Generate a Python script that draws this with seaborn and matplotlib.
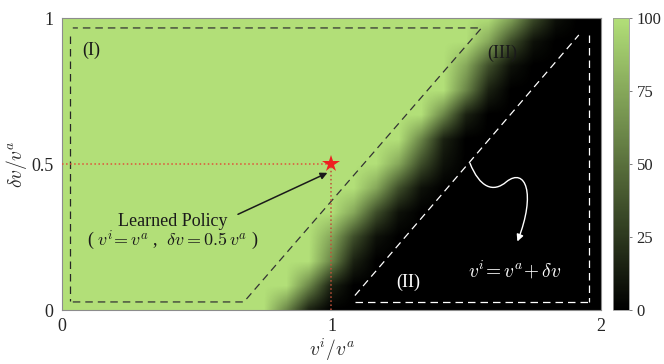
import numpy as np
import pandas as pd
import matplotlib
matplotlib.use("Agg")
import matplotlib.pyplot as plt
import seaborn as sns
from matplotlib.colors import LinearSegmentedColormap
from matplotlib.patches import FancyArrowPatch
from matplotlib.path import Path

# === Data ===
# grid nodes every 1/12 on both axes: v^i/v^a in [0, 2] (25 columns),
# dv/v^a in [0, 1] (13 rows, listed bottom to top); success rate in %
G, K = 100, 0
success = [
    [G] * 10 + [60, 15] + [K] * 13,
    [G] * 11 + [60, 15] + [K] * 12,
    [G] * 12 + [60, 15] + [K] * 11,
    [G] * 12 + [75, 35, 8] + [K] * 10,
    [G] * 13 + [75, 35, 8] + [K] * 9,
    [G] * 14 + [75, 35, 8] + [K] * 8,
    [G] * 15 + [75, 35, 8] + [K] * 7,
    [G] * 16 + [60, 15] + [K] * 7,
    [G] * 17 + [60, 15] + [K] * 6,
    [G] * 18 + [60, 15] + [K] * 5,
    [G] * 18 + [75, 35, 8] + [K] * 4,
    [G] * 19 + [75, 35, 8] + [K] * 3,
    [G] * 20 + [75, 35, 8] + [K] * 2,
]
x_ticks = [0, 1, 2]
y_ticks = [0, 0.5, 1]
cbar_ticks = [0, 25, 50, 75, 100]
policy_x, policy_y = 1.0, 0.5

df = pd.DataFrame(success)

step = 1 / 12  # grid step in data units


# data value -> heatmap coordinate (cell centres are the grid nodes)
def gx(x):
    return x / step + 0.5


def gy(y):
    return y / step + 0.5


sns.set_style("white")
plt.rcParams["font.family"] = ["Liberation Serif", "DejaVu Serif"]
plt.rcParams["mathtext.fontset"] = "cm"

cmap = LinearSegmentedColormap.from_list("blk_green", ["#000000", "#b2df78"])

fig = plt.figure(figsize=(6.64, 3.64), dpi=100)
ax = fig.add_axes([0.0934, 0.148, 0.8116, 0.8025])
cax = fig.add_axes([0.923, 0.148, 0.024, 0.8025])

sns.heatmap(df, ax=ax, cbar_ax=cax, cmap=cmap, vmin=0, vmax=100,
            xticklabels=False, yticklabels=False)
# smooth the cells like an interpolated shading (drawn over the flat mesh)
ax.imshow(df.values, cmap=cmap, vmin=0, vmax=100, origin="lower",
          interpolation="bilinear", aspect="auto", zorder=1.5,
          extent=(0, df.shape[1], 0, df.shape[0]))

ax.set_xlim(gx(0), gx(2))
ax.set_ylim(gy(0), gy(1))
ax.set_xticks([gx(v) for v in x_ticks])
ax.set_xticklabels(["0", "1", "2"], fontsize=13)
ax.set_yticks([gy(v) for v in y_ticks])
ax.set_yticklabels(["0", "0.5", "1"], fontsize=13)
ax.tick_params(length=0, pad=6)
for s in ax.spines.values():
    s.set_visible(True)
    s.set_color("0.55")
    s.set_linewidth(0.8)
ax.set_xlabel(r"$v^i/v^a$", fontsize=14)
ax.xaxis.set_label_coords(0.5, -0.09)
ax.set_ylabel(r"$\delta v/v^a$", fontsize=14, labelpad=2)

# colorbar
cb = ax.collections[0].colorbar
cb.set_ticks(cbar_ticks)
cb.ax.tick_params(labelsize=12, length=2, width=0.6, color="0.4")
cb.outline.set_edgecolor("0.6")
cb.outline.set_linewidth(0.6)

# region (I) outline
dash = dict(linestyle=(0, (6, 4)), linewidth=0.9, zorder=3)
ax.plot([gx(0.03), gx(0.03)], [gy(0.94), gy(0.03)], color="0.15", **dash)
ax.plot([gx(0.04), gx(0.675), gx(1.557), gx(0.04)],
        [gy(0.028), gy(0.028), gy(0.966), gy(0.966)], color="0.2", **dash)
# region (II) outline
ax.plot([gx(1.087), gx(1.918)], [gy(0.05), gy(0.942)], color="white", **dash)
ax.plot([gx(1.955), gx(1.955)], [gy(0.942), gy(0.027)], color="white", **dash)
ax.plot([gx(1.087), gx(1.955)], [gy(0.027), gy(0.027)], color="white", **dash)

# learned policy
ax.plot([gx(0), gx(policy_x)], [gy(policy_y), gy(policy_y)], color="#e0503a",
        linestyle=":", linewidth=1.1, zorder=3)
ax.plot([gx(policy_x), gx(policy_x)], [gy(0), gy(policy_y)], color="#c0503a",
        linestyle=":", linewidth=1.1, zorder=3)
ax.plot(gx(policy_x), gy(policy_y), marker="*", color="#ee2020",
        markersize=13, markeredgewidth=0, zorder=4)
ax.annotate("", xy=(gx(0.985), gy(0.47)), xytext=(gx(0.653), gy(0.328)),
            arrowprops=dict(arrowstyle="-|>", color="0.1", lw=1.1,
                            mutation_scale=10, shrinkA=0, shrinkB=0))
ax.text(gx(0.41), gy(0.305), "Learned Policy", fontsize=13,
        ha="center", va="center", color="0.1")
ax.text(gx(0.41), gy(0.24), r"( $v^i\!=v^a$ ,  $\delta v=0.5\,v^a$ )",
        fontsize=13, ha="center", va="center", color="0.1")

# region labels
ax.text(gx(0.11), gy(0.89), "(I)", fontsize=13, ha="center", va="center",
        color="0.1")
ax.text(gx(1.635), gy(0.88), "(III)", fontsize=13, ha="center", va="center",
        color="0.1")
ax.text(gx(1.284), gy(0.096), "(II)", fontsize=13, ha="center", va="center",
        color="white")
ax.text(gx(1.68), gy(0.135), r"$v^i\!= v^a\!+\delta v$", fontsize=14,
        ha="center", va="center", color="white")

# wavy white arrow
verts = [(gx(1.514), gy(0.503)), (gx(1.55), gy(0.42)), (gx(1.60), gy(0.40)),
         (gx(1.65), gy(0.44)), (gx(1.72), gy(0.49)), (gx(1.76), gy(0.40)),
         (gx(1.69), gy(0.235))]
codes = [Path.MOVETO] + [Path.CURVE4] * 6
ax.add_patch(FancyArrowPatch(path=Path(verts, codes), arrowstyle="-|>",
                             color="white", lw=1.0, mutation_scale=10,
                             zorder=3))

plt.savefig("out.png", dpi=100)
plt.close()
